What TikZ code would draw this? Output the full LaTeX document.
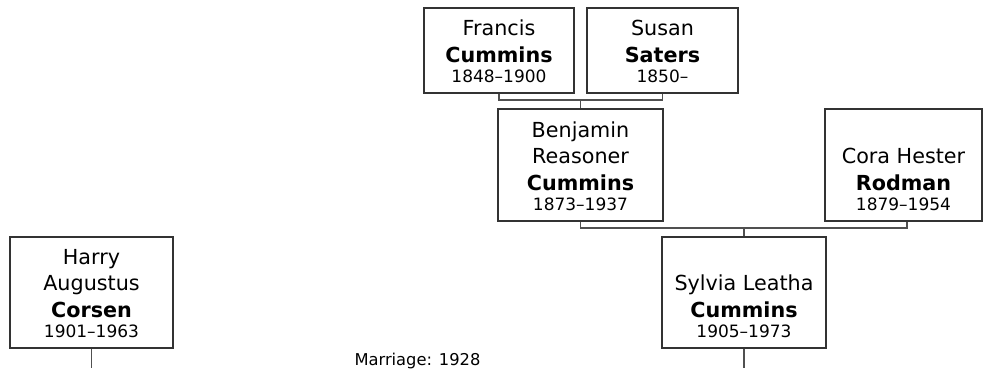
\documentclass[tikz,border=0pt]{standalone}
\usepackage{fontspec}
\setmainfont{DejaVu Sans}
\definecolor{boxc}{HTML}{333333}
\definecolor{linec}{HTML}{505050}
\begin{document}
\begin{tikzpicture}[x=1pt,y=-1pt,
  box/.style={draw=boxc, line width=1.3pt, inner sep=0pt, fill=white},
  nm/.style={anchor=base, inner sep=0pt, font=\fontsize{20.7}{24}\selectfont},
  sur/.style={anchor=base, inner sep=0pt, font=\fontsize{20.7}{24}\selectfont\bfseries},
  dt/.style={anchor=base, inner sep=0pt, font=\fontsize{17}{20}\selectfont},
  conn/.style={draw=linec, line width=1.3pt}]
\useasboundingbox (0,0) rectangle (983,368);
% boxes
\node[box, minimum width=150pt, minimum height=85pt] (fr) at (499,50.5) {};
\node[box, minimum width=151pt, minimum height=85pt] (su) at (662.5,50.5) {};
\node[box, minimum width=165pt, minimum height=112pt] (be) at (580.5,165) {};
\node[box, minimum width=157pt, minimum height=112pt] (co) at (903.5,165) {};
\node[box, minimum width=163pt, minimum height=111pt] (ha) at (91.5,292.5) {};
\node[box, minimum width=164pt, minimum height=111pt] (sy) at (744,292.5) {};
% connectors
\coordinate (j1) at (580.5,100);
\draw[conn] (fr.south) |- (j1) -| (su.south);
\draw[conn] (j1) -- (be.north);
\coordinate (j2) at (744,228);
\coordinate (cj) at ([xshift=3.5pt]co.south);
\draw[conn] (be.south) |- (j2) -| (cj);
\draw[conn] (j2) -- (sy.north);
\coordinate (hb) at (91.5,368);
\coordinate (sb) at (744,368);
\draw[conn] (ha.south) -- (hb);
\draw[conn] (sy.south) -- (sb);
% texts
\node[nm] (fr1) at (499,35.6) {Francis};
\node[sur] (fr2) at (499,62.2) {Cummins};
\node[dt] (fr3) at (499,82.6) {1848–1900};
\node[nm] (su1) at (662.5,35.6) {Susan};
\node[sur] (su2) at (662.5,62.2) {Saters};
\node[dt] (su3) at (662.5,82.6) {1850–};
\node[nm] (be1) at (580.5,137) {Benjamin};
\node[nm] (be2) at (580.5,163.6) {Reasoner};
\node[sur] (be3) at (580.5,190.2) {Cummins};
\node[dt] (be4) at (580.5,210.6) {1873–1937};
\node[nm] (co1) at (903.5,163.6) {Cora Hester};
\node[sur] (co2) at (903.5,190.2) {Rodman};
\node[dt] (co3) at (903.5,210.6) {1879–1954};
\node[nm] (ha1) at (91.5,264) {Harry};
\node[nm] (ha2) at (91.5,290.6) {Augustus};
\node[sur] (ha3) at (91.5,317.2) {Corsen};
\node[dt] (ha4) at (91.5,337.6) {1901–1963};
\node[nm] (sy1) at (744,290.6) {Sylvia Leatha};
\node[sur] (sy2) at (744,317.2) {Cummins};
\node[dt] (sy3) at (744,337.6) {1905–1973};
\node[anchor=base, inner sep=0pt, font=\fontsize{16.3}{19}\selectfont] (mar) at (417.5,365) {Marriage: 1928};
\end{tikzpicture}
\end{document}
